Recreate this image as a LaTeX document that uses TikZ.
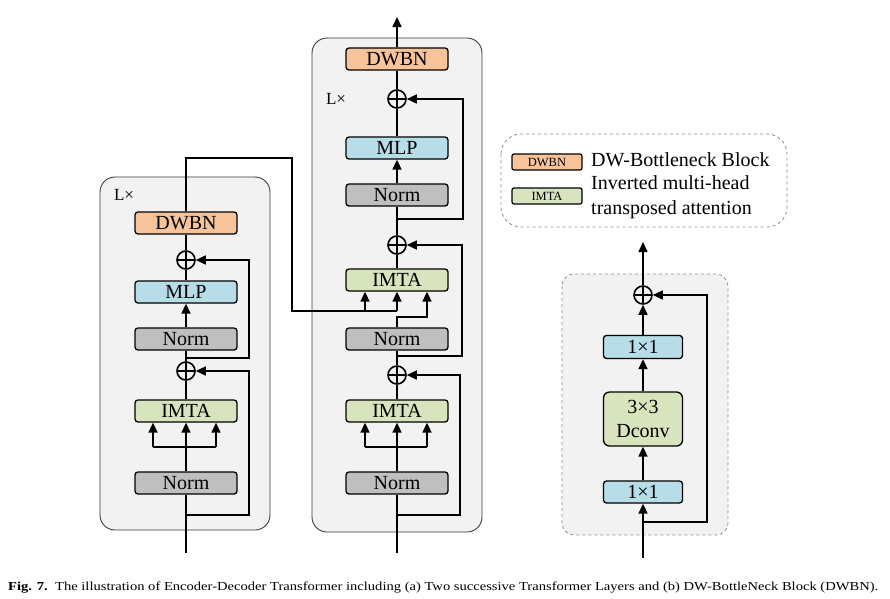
\documentclass[tikz,border=0pt]{standalone}
\usepackage{fontspec}
\setmainfont{Liberation Serif}
\usetikzlibrary{arrows.meta}
\definecolor{dwbn}{HTML}{F7C39B}
\definecolor{mlpc}{HTML}{B7DDE8}
\definecolor{normc}{HTML}{BFBFBF}
\definecolor{imtac}{HTML}{D7E4BD}
\definecolor{panelgray}{HTML}{F2F2F2}
\definecolor{paneledge}{HTML}{3A3A3A}
\definecolor{dashedge}{HTML}{8C8C8C}
\tikzset{
 blk/.style={draw=black, line width=1.3pt, rounded corners=3pt, minimum width=102pt, minimum height=22pt, inner sep=0pt, font=\fontsize{20}{20}\selectfont},
 rblk/.style={blk, minimum width=79pt},
 lblk/.style={draw=black, line width=1.2pt, rounded corners=2pt, minimum width=70pt, minimum height=16pt, inner sep=0pt, font=\fontsize{12.5}{12.5}\selectfont},
 plus/.style={circle, draw=black, line width=1.6pt, minimum size=18pt, inner sep=0pt,
   path picture={\draw[line width=1.6pt] (path picture bounding box.north) -- (path picture bounding box.south) (path picture bounding box.west) -- (path picture bounding box.east);}},
 conn/.style={line width=1.6pt, draw=black},
 arr/.style={conn, -{Triangle[length=10pt,width=9pt]}},
 panel/.style={fill=panelgray, draw=paneledge, line width=0.9pt, rounded corners=15pt},
 dpanel/.style={fill=panelgray, draw=dashedge, dashed, line width=0.8pt, rounded corners=12pt},
 legendbox/.style={fill=white, draw=dashedge, dashed, line width=0.8pt, rounded corners=20pt},
 lab/.style={inner sep=0pt, font=\fontsize{20}{25}\selectfont},
 llab/.style={inner sep=0pt, font=\fontsize{17}{17}\selectfont},
}
\begin{document}
\begin{tikzpicture}[x=1pt,y=-1pt]
\useasboundingbox (0,0) rectangle (890,598);
% panels
\path[panel] (100,177) rectangle (270,530);
\path[panel] (312,38) rectangle (482,532);
\path[dpanel] (562,274) rectangle (728,535);
\path[legendbox] (501,134) rectangle (787,227);

% ---------------- left column ----------------
\node[llab] (Llab) at (124,195) {L×};
\node[blk, fill=dwbn] (Ldw) at (186,223) {DWBN};
\node[plus] (Lp2) at (186,260) {};
\node[blk, fill=mlpc] (Lmlp) at (186,292) {MLP};
\node[blk, fill=normc] (Ln2) at (186,339) {Norm};
\node[plus] (Lp1) at (186,371) {};
\node[blk, fill=imtac] (Limta) at (186,411) {IMTA};
\node[blk, fill=normc] (Ln1) at (186,483) {Norm};
\coordinate (Lin) at (186,553);
\coordinate (Ls1) at (186,515); \coordinate (Ls1r) at (249,515);
\coordinate (Ls2) at (186,358); \coordinate (Ls2r) at (249,358);
\coordinate (Lbl) at (153,447); \coordinate (Lbr) at (216,447);

\draw[conn] (Lin) -- (Ln1.south);
\draw[arr] (Ls1) -- (Ls1r) |- (Lp1.east);
\draw[arr] (Ln1.north) -- (Limta.south);
\draw[conn] (Lbl) -- (Lbr);
\draw[arr] (Lbl) -- (Lbl |- Limta.south);
\draw[arr] (Lbr) -- (Lbr |- Limta.south);
\draw[conn] (Limta.north) -- (Lp1.south);
\draw[conn] (Lp1.north) -- (Ln2.south);
\draw[arr] (Ls2) -- (Ls2r) |- (Lp2.east);
\draw[arr] (Ln2.north) -- (Lmlp.south);
\draw[conn] (Lmlp.north) -- (Lp2.south);
\draw[conn] (Lp2.north) -- (Ldw.south);

% ---------------- middle column ----------------
\node[llab] (Mlab) at (336,99) {L×};
\node[blk, fill=dwbn] (Mdw) at (397,59) {DWBN};
\node[plus] (Mp3) at (397,99) {};
\node[blk, fill=mlpc] (Mmlp) at (397,148) {MLP};
\node[blk, fill=normc] (Mn3) at (397,195) {Norm};
\node[plus] (Mp2) at (397,245) {};
\node[blk, fill=imtac] (Mimta2) at (397,280) {IMTA};
\node[blk, fill=normc] (Mn2) at (397,339) {Norm};
\node[plus] (Mp1) at (397,375) {};
\node[blk, fill=imtac] (Mimta1) at (397,411) {IMTA};
\node[blk, fill=normc] (Mn1) at (397,483) {Norm};
\coordinate (Min) at (397,553);
\coordinate (Mout) at (397,17);
\coordinate (Ms1) at (397,515); \coordinate (Ms1r) at (460,515);
\coordinate (Ms2) at (397,356); \coordinate (Ms2r) at (462,356);
\coordinate (Ms3) at (397,219); \coordinate (Ms3r) at (463,219);
\coordinate (Mbl) at (365,447); \coordinate (Mbr) at (427,447);
\coordinate (Mq1) at (397,317); \coordinate (Mq2) at (427,317);
\coordinate (Mk) at (365,311); \coordinate (Mv) at (397,311);

\draw[conn] (Min) -- (Mn1.south);
\draw[arr] (Ms1) -- (Ms1r) |- (Mp1.east);
\draw[arr] (Mn1.north) -- (Mimta1.south);
\draw[conn] (Mbl) -- (Mbr);
\draw[arr] (Mbl) -- (Mbl |- Mimta1.south);
\draw[arr] (Mbr) -- (Mbr |- Mimta1.south);
\draw[conn] (Mimta1.north) -- (Mp1.south);
\draw[conn] (Mp1.north) -- (Mn2.south);
\draw[arr] (Ms2) -- (Ms2r) |- (Mp2.east);
\draw[arr] (Mn2.north) -- (Mq1) -- (Mq2) -- (Mq2 |- Mimta2.south);
\draw[conn] (Mimta2.north) -- (Mp2.south);
\draw[conn] (Mp2.north) -- (Mn3.south);
\draw[arr] (Ms3) -- (Ms3r) |- (Mp3.east);
\draw[arr] (Mn3.north) -- (Mmlp.south);
\draw[conn] (Mmlp.north) -- (Mp3.south);
\draw[conn] (Mp3.north) -- (Mdw.south);
\draw[arr] (Mdw.north) -- (Mout);

% encoder -> decoder connection
\coordinate (Ltop) at (186,158); \coordinate (Xr) at (292,158); \coordinate (Xb) at (292,311);
\draw[conn] (Ldw.north) -- (Ltop) -- (Xr) -- (Xb) -- (Mv);
\draw[arr] (Mk) -- (Mk |- Mimta2.south);
\draw[arr] (Mv) -- (Mimta2.south);

% ---------------- right block (DWBN) ----------------
\node[plus] (Rp) at (643,295) {};
\node[rblk, fill=mlpc, minimum height=23pt] (R2) at (643,347) {1×1};
\node[rblk, fill=imtac, minimum height=54pt, rounded corners=6pt, align=center, font=\fontsize{20}{24}\selectfont] (Rdc) at (643,419) {3×3\\Dconv};
\node[rblk, fill=mlpc] (R1) at (643,492) {1×1};
\coordinate (Rin) at (643,558);
\coordinate (Rout) at (643,242);
\coordinate (Rs) at (643,522); \coordinate (Rsr) at (707,522);
\draw[arr] (Rin) -- (R1.south);
\draw[arr] (Rs) -- (Rsr) |- (Rp.east);
\draw[arr] (R1.north) -- (Rdc.south);
\draw[arr] (Rdc.north) -- (R2.south);
\draw[arr] (R2.north) -- (Rp.south);
\draw[arr] (Rp.north) -- (Rout);

% ---------------- legend ----------------
\node[lblk, fill=dwbn] (Kdw) at (547,162) {DWBN};
\node[lab, anchor=west] (Kdwt) at (591,160) {DW-Bottleneck Block};
\node[lblk, fill=imtac] (Kim) at (547,196) {IMTA};
\node[lab, anchor=west, align=left] (Kimt) at (591,197) {Inverted multi-head\\transposed attention};

% ---------------- caption ----------------
\node[anchor=base west, inner sep=0pt] (cap) at (8,590.5) {\resizebox{870pt}{8.6pt}{\fontsize{12.5}{14}\selectfont\textbf{Fig. 7.}\ \ The illustration of Encoder-Decoder Transformer including (a) Two successive Transformer Layers and (b) DW-BottleNeck Block (DWBN).}};
\end{tikzpicture}
\end{document}
